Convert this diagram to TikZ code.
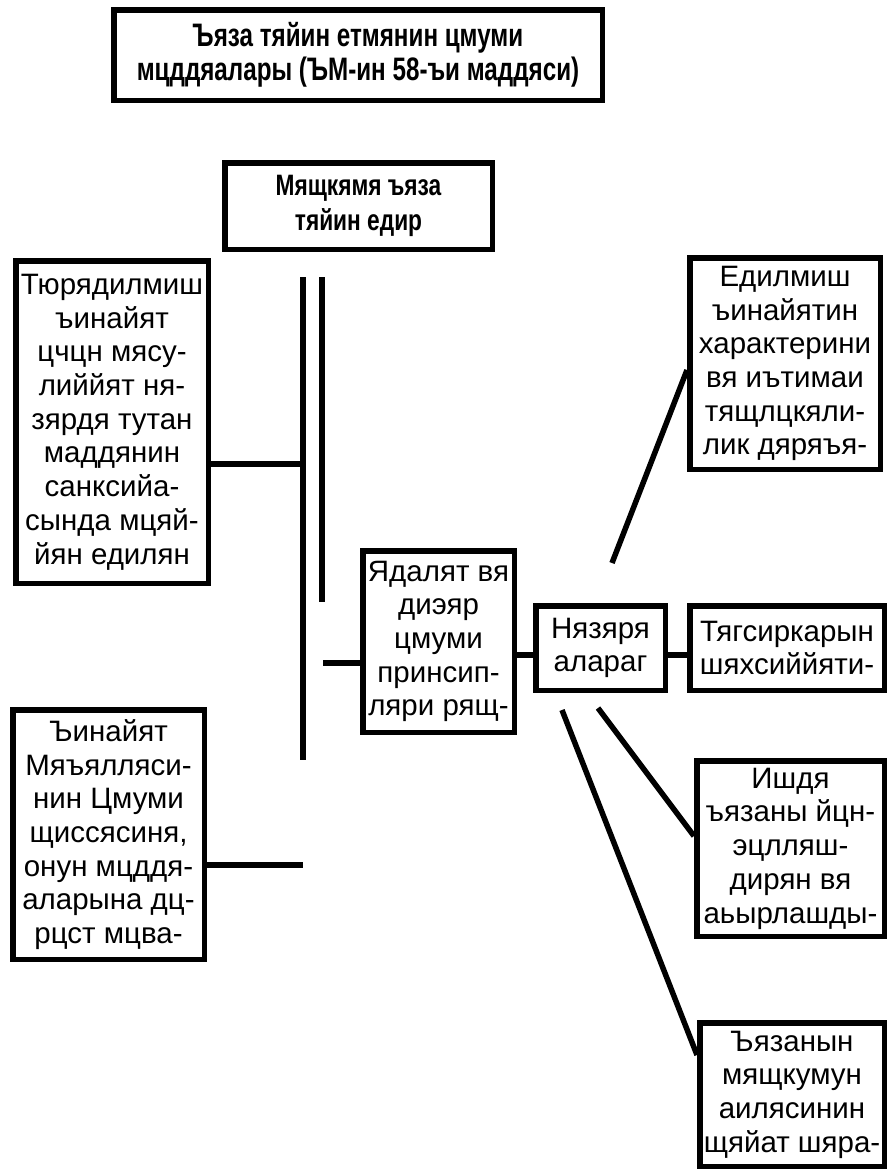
\documentclass[tikz,border=0pt]{standalone}
\usepackage{fontspec}
\setmainfont{Liberation Sans}
\newfontfamily\narrowfont[FakeStretch=0.77]{Liberation Sans}
\newfontfamily\titlefont[FakeStretch=0.745]{Liberation Sans}
\usepackage{tikz}

\begin{document}
\begin{tikzpicture}[x=1pt,y=-1pt,
  wire/.style={line width=5.5pt},
  heading/.style={font=\narrowfont\bfseries\fontsize{29.5}{35}\selectfont}]
\useasboundingbox (0,0) rectangle (890,1171);
\begin{scope}[every node/.style={draw,line width=5.5pt,align=center,inner sep=0pt,
  font=\fontsize{29.5}{33.7}\selectfont}]
 \node[heading,font=\titlefont\bfseries\fontsize{32.5}{34.5}\selectfont,
  minimum width=488.5,minimum height=90.5] (title) at (358,55)
  {Ъяза тяйин етмянин цмуми\\мцддяалары (ЪМ-ин 58-ъи маддяси)};
 \node[heading,minimum width=267.5,minimum height=86.5] (court) at (358.5,206)
  {Мящкямя ъяза\\тяйин едир};
 \node[minimum width=192.5,minimum height=322.5] (crime) at (112,422)
  {Тюрядилмиш\\ъинайят\\цчцн мясу-\\лиййят ня-\\зярдя тутан\\маддянин\\санксийа-\\сында мцяй-\\йян едилян};
 \node[minimum width=191.5,minimum height=249.5] (code) at (108.5,834.5)
  {Ъинайят\\Мяъялляси-\\нин Цмуми\\щиссясиня,\\онун мцддя-\\аларына дц-\\рцст мцва-};
 \node[minimum width=151.5,minimum height=181.5] (justice) at (438.5,641.5)
  {Ядалят вя\\диэяр\\цмуми\\принсип-\\ляри рящ-};
 \node[minimum width=129.5,minimum height=84.5] (consider) at (600.5,648)
  {Нязяря\\алараг};
 \node[minimum width=194.5,minimum height=84.5] (guilt) at (787,648)
  {Тягсиркарын\\шяхсиййяти-};
 \node[minimum width=190.5,minimum height=211.5] (act) at (785,363.5)
  {Едилмиш\\ъинайятин\\характерини\\вя иътимаи\\тящлцкяли-\\лик дяряъя-};
 \node[minimum width=187.5,minimum height=175.5] (mitig) at (790.5,848.5)
  {Ишдя\\ъязаны йцн-\\эцлляш-\\дирян вя\\аьырлашды-};
 \node[minimum width=184.5,minimum height=143.5] (family) at (792,1094.5)
  {Ъязанын\\мящкумун\\аилясинин\\щяйат шяра-};
\end{scope}

% bars under the court box
\coordinate (b1t) at (303,277);
\coordinate (b1b) at (303,760);
\coordinate (b2t) at (322,277);
\coordinate (b2b) at (322,602);
\draw[wire] (b1t) -- (b1b);
\draw[wire] (b2t) -- (b2b);

% connectors
\coordinate (j1) at (303,464);
\coordinate (j2) at (303,865);
\coordinate (j3) at (323,663);
\coordinate (j4) at (0,655);
\draw[wire] (j1 -| crime.east) -- (j1);
\draw[wire] (j2 -| code.east) -- (j2);
\draw[wire] (j3) -- (j3 -| justice.west);
\draw[wire] (j4 -| justice.east) -- (j4 -| consider.west);
\draw[wire] (j4 -| consider.east) -- (j4 -| guilt.west);

\coordinate (s1) at (612,563);
\coordinate (s2) at (598,708);
\coordinate (s3) at (562,710);
\draw[wire] (s1) -- (act.west |- 0,370);
\draw[wire] (s2) -- (mitig.west |- 0,836);
\draw[wire] (s3) -- (family.west |- 0,1055);
\end{tikzpicture}
\end{document}
